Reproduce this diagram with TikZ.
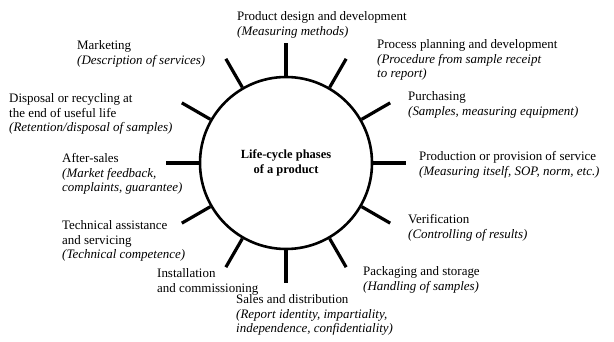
\documentclass[tikz,border=0pt]{standalone}
\usepackage{fontspec}
\setmainfont{Liberation Serif}
\usepackage{tikz}

\begin{document}
\begin{tikzpicture}[x = 1bp, y = 1bp,
								hub/.style = {circle, draw, line width = 2.6bp, 
								minimum size = 172bp, align = center, 
								font = \fontsize{12.5}{15}\selectfont\bfseries},
								spoke/.style = {line width = 3.2bp},
								phase/.style = {anchor = west, inner sep = 0pt, 
								align = left, font = \fontsize{13}{14.5}\selectfont}]

				\useasboundingbox (0,0) rectangle (614,341);

				\node [hub] (hub) at (286,178) {Life-cycle phases\\of a product};

				% the twelve spokes round the circle
				\foreach \a in {0,30,...,330}
					\draw [spoke] (hub.\a) -- ++(\a:33) coordinate (t_\a);

				\node [phase] (p_1) at (237,316) {Product design and development\\
				\textit{(Measuring methods)}};
				\node [phase] (p_2) at (377,281) {Process planning and development\\
				\textit{(Procedure from sample receipt}\\\textit{to report)}};
				\node [phase] (p_3) at (408,236) {Purchasing\\
				\textit{(Samples, measuring equipment)}};
				\node [phase] (p_4) at (419,176) {Production or provision of service\\
				\textit{(Measuring itself, SOP, norm, etc.)}};
				\node [phase] (p_5) at (408,113) {Verification\\
				\textit{(Controlling of results)}};
				\node [phase] (p_6) at (363,61) {Packaging and storage\\
				\textit{(Handling of samples)}};
				\node [phase] (p_7) at (236,26) {Sales and distribution\\
				\textit{(Report identity, impartiality,}\\
				\textit{independence, confidentiality)}};
				\node [phase] (p_8) at (157,59) {Installation\\and commissioning};
				\node [phase] (p_9) at (62,100) {Technical assistance\\and servicing\\
				\textit{(Technical competence)}};
				\node [phase] (p_10) at (62,167) {After-sales\\
				\textit{(Market feedback,}\\\textit{complaints, guarantee)}};
				\node [phase] (p_11) at (9,227) {Disposal or recycling at\\
				the end of useful life\\\textit{(Retention/disposal of samples)}};
				\node [phase] (p_12) at (77,287) {Marketing\\
				\textit{(Description of services)}};
			\end{tikzpicture}
\end{document}
